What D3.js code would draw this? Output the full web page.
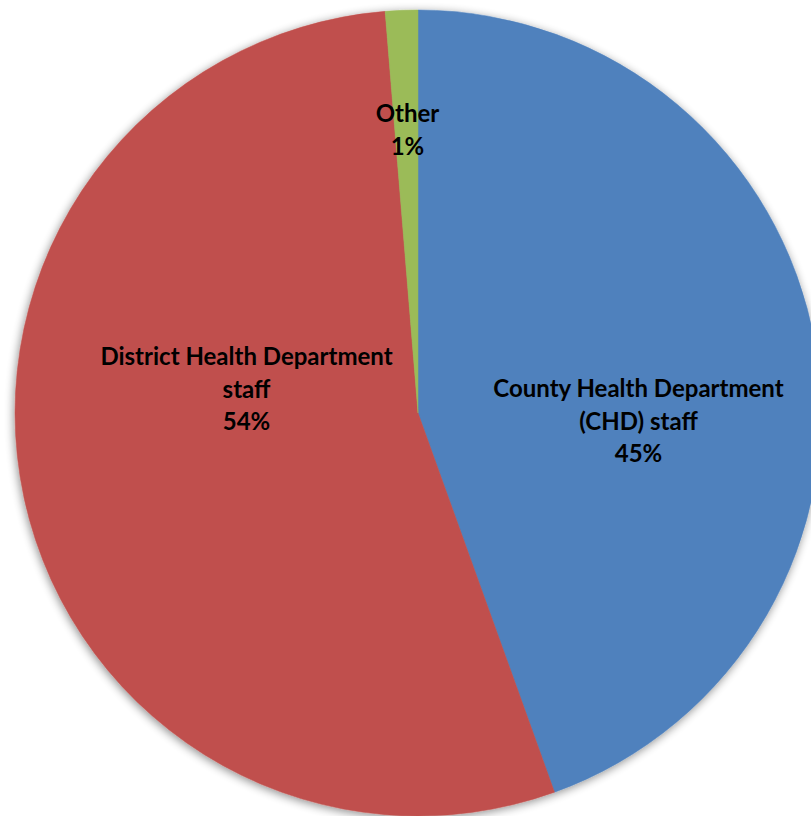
<!DOCTYPE html>
<html><head><meta charset="utf-8">
<script src="https://cdn.jsdelivr.net/npm/d3@7/dist/d3.min.js"></script>
<style>html,body{margin:0;padding:0;background:#fff;overflow:hidden}</style>
</head><body>
<svg id="chart" width="811" height="816"></svg>
<script>
const categories = ["County Health Department (CHD) staff", "District Health Department staff", "Other"];
const values = [44.5, 54.2, 1.3];
const colors = ["#4F81BD", "#C0504D", "#9BBB59"];
const labelLines = [["County Health Department", "(CHD) staff"], ["District Health Department", "staff"], ["Other"]];

const W = 811, H = 816;
const cx = 418, cy = 413, R = 403;
const svg = d3.select("#chart");

const defs = svg.append("defs");
const f = defs.append("filter").attr("id", "shadow").attr("x", "-10%").attr("y", "-10%").attr("width", "120%").attr("height", "120%");
f.append("feGaussianBlur").attr("in", "SourceAlpha").attr("stdDeviation", 5).attr("result", "b");
f.append("feOffset").attr("in", "b").attr("dx", -1).attr("dy", 2).attr("result", "o");
f.append("feComponentTransfer").attr("in", "o").attr("result", "s")
  .append("feFuncA").attr("type", "linear").attr("slope", 0.45);
const m = f.append("feMerge");
m.append("feMergeNode").attr("in", "s");
m.append("feMergeNode").attr("in", "SourceGraphic");

const data = categories.map((c, i) => ({ cat: c, value: values[i], color: colors[i], lines: labelLines[i] }));
const pie = d3.pie().value(d => d.value).sort(null);
const arc = d3.arc().innerRadius(0).outerRadius(R);
const arcs = pie(data);

const g = svg.append("g").attr("transform", `translate(${cx},${cy})`);
const sl = g.append("g").attr("filter", "url(#shadow)");
sl.selectAll("path").data(arcs).join("path")
  .attr("d", arc).attr("fill", d => d.data.color)
  .attr("stroke", d => d.data.color).attr("stroke-width", 0.5);

// label anchor positions (relative to centre) and first baselines
const labelPos = [[220.5, -16], [-171.5, -48], [-10.5, -291]];
const lh = 32.5;
arcs.forEach((a, i) => {
  const lines = a.data.lines.concat([Math.round(a.data.value) + "%"]);
  const t = g.append("text")
    .attr("text-anchor", "middle")
    .attr("font-family", "Lato, 'Open Sans', sans-serif")
    .attr("font-weight", "bold")
    .attr("font-size", 24)
    .attr("fill", "#000");
  lines.forEach((l, j) => {
    t.append("tspan").attr("x", labelPos[i][0]).attr("y", labelPos[i][1] + j * lh).text(l);
  });
});
</script>
</body></html>
